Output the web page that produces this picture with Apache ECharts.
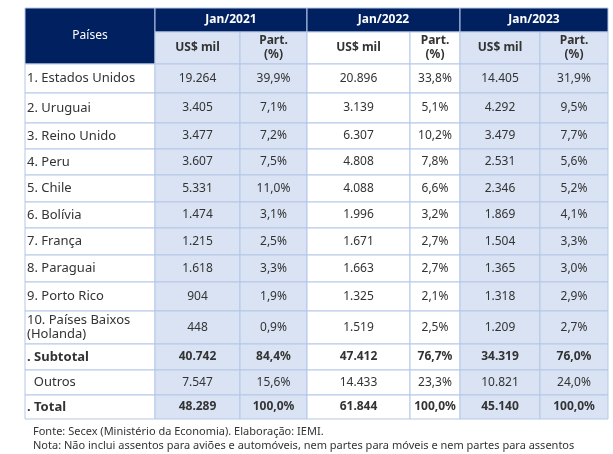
<!DOCTYPE html>
<html><head><meta charset="utf-8">
<script src="https://cdn.jsdelivr.net/npm/echarts@6/dist/echarts.min.js"></script>
<style>html,body{margin:0;background:#fff}#c{width:613px;height:454px}</style>
</head><body><div id="c"></div>
<script>
var years = ['Jan/2021', 'Jan/2022', 'Jan/2023'];
var countries = ['1. Estados Unidos', '2. Uruguai', '3. Reino Unido', '4. Peru', '5. Chile', '6. Bolívia', '7. França', '8. Paraguai', '9. Porto Rico', '10. Países Baixos\n(Holanda)', '. Subtotal', '  Outros', '. Total'];
var val2021 = ['19.264', '3.405', '3.477', '3.607', '5.331', '1.474', '1.215', '1.618', '904', '448', '40.742', '7.547', '48.289'];
var pct2021 = ['39,9%', '7,1%', '7,2%', '7,5%', '11,0%', '3,1%', '2,5%', '3,3%', '1,9%', '0,9%', '84,4%', '15,6%', '100,0%'];
var val2022 = ['20.896', '3.139', '6.307', '4.808', '4.088', '1.996', '1.671', '1.663', '1.325', '1.519', '47.412', '14.433', '61.844'];
var pct2022 = ['33,8%', '5,1%', '10,2%', '7,8%', '6,6%', '3,2%', '2,7%', '2,7%', '2,1%', '2,5%', '76,7%', '23,3%', '100,0%'];
var val2023 = ['14.405', '4.292', '3.479', '2.531', '2.346', '1.869', '1.504', '1.365', '1.318', '1.209', '34.319', '10.821', '45.140'];
var pct2023 = ['31,9%', '9,5%', '7,7%', '5,6%', '5,2%', '4,1%', '3,3%', '3,0%', '2,9%', '2,7%', '76,0%', '24,0%', '100,0%'];
var boldRows = [10, 12];
var notes = ['Fonte: Secex (Ministério da Economia). Elaboração: IEMI.',
  'Nota: Não inclui assentos para aviões e automóveis, nem partes para móveis e nem partes para assentos'];

var colX = [25, 155, 240, 307, 410, 460, 540, 608];
var rowY = [64, 93, 123, 149, 175, 202, 228, 255, 282, 311, 344, 370, 395, 419];
var navy = '#002060', light = '#dae3f3', line = '#b4c7e7';
var font = '"Noto Sans", sans-serif';
var cols = [val2021, pct2021, val2022, pct2022, val2023, pct2023];
var g = [];

function rect(x, y, w, h, fill) {
  g.push({type: 'rect', shape: {x: x, y: y, width: w, height: h}, style: {fill: fill, stroke: line, lineWidth: 1}});
}
function text(x, y, s, opt) {
  opt = opt || {};
  g.push({type: 'text', x: x, y: y, style: {text: s, fill: opt.fill || '#333', font: (opt.bold ? 'bold ' : '') + (opt.size || 12) + 'px ' + font,
    align: opt.align || 'center', verticalAlign: 'middle', lineHeight: 14}});
}

// header
rect(colX[0], 8, colX[1] - colX[0], 56, navy);
text((colX[0] + colX[1]) / 2, 36, 'Países', {fill: '#fff'});
years.forEach(function (yr, i) {
  var x0 = colX[1 + 2 * i], x2 = colX[3 + 2 * i];
  rect(x0, 8, x2 - x0, 24, navy);
  text((x0 + x2) / 2, 20, yr, {fill: '#fff', bold: true});
  for (var k = 0; k < 2; k++) {
    var a = colX[1 + 2 * i + k], b = colX[2 + 2 * i + k];
    rect(a, 32, b - a, 32, i === 1 ? '#fff' : light);
    text((a + b) / 2, 48, k === 0 ? 'US$ mil' : 'Part.\n(%)', {bold: true});
  }
});
// body
countries.forEach(function (c, r) {
  var y0 = rowY[r], y1 = rowY[r + 1], ym = (y0 + y1) / 2, bold = boldRows.indexOf(r) >= 0;
  rect(colX[0], y0, colX[1] - colX[0], y1 - y0, '#fff');
  text(colX[0] + 2, ym, c, {align: 'left', bold: bold, size: 13});
  cols.forEach(function (arr, j) {
    var a = colX[1 + j], b = colX[2 + j];
    rect(a, y0, b - a, y1 - y0, (j === 2 || j === 3) ? '#fff' : light);
    text((a + b) / 2, ym, arr[r], {bold: bold});
  });
});
notes.forEach(function (n, i) {
  text(33, 432 + i * 14, n, {align: 'left', size: 11});
});

echarts.init(document.getElementById('c')).setOption({graphic: g});
</script></body></html>
